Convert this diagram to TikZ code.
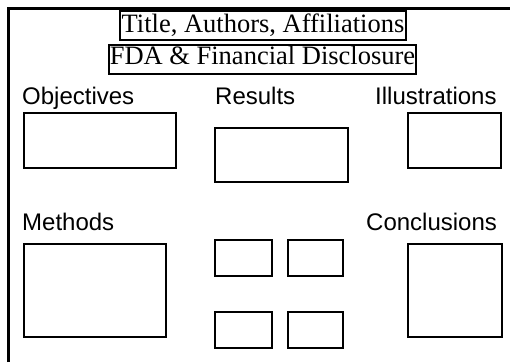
\documentclass[tikz,border=0pt]{standalone}
\usepackage{fontspec}
\setmainfont{Liberation Serif}
\setsansfont{Liberation Sans}

\tikzset{
    feld/.style = {draw, line width = 2pt, inner sep = 0pt},
    kopf/.style = {font = \sffamily\fontsize{24}{28}\selectfont, inner sep = 0pt, anchor = base west},
    titel/.style = {draw, line width = 2pt, inner sep = 0pt, anchor = base,
        font = \fontsize{26.5}{30}\selectfont}
}

\begin{document}
\begin{tikzpicture}[x = 1pt, y = -1pt]
        \useasboundingbox (0, 0) rectangle (510, 362);

        % Rahmen
        \draw [line width = 3pt] (8, 362) -- (8, 8) -- (510, 8);

        % oben
        \node [titel, text height = 21pt, text depth = 8pt, minimum width = 286pt]
            (title) at (263, 32) {Title, Authors, Affiliations};
        \node [titel, text height = 19pt, text depth = 10pt, minimum width = 307pt]
            (disclosure) at (262.5, 64) {FDA \& Financial Disclosure};

        % Mitte
        \node [kopf] (objectives) at (22, 104) {Objectives};
        \node [kopf] (results) at (215, 104) {Results};
        \node [kopf] (illustrations) at (375, 104) {Illustrations};
        \node [feld, minimum width = 152pt, minimum height = 55pt] (objbox) at (100, 140.5) {};
        \node [feld, minimum width = 133pt, minimum height = 54pt] (resbox) at (281.5, 155) {};
        \node [feld, minimum width = 93pt, minimum height = 55pt] (illbox) at (454.5, 140.5) {};

        % unten
        \node [kopf] (methods) at (22, 230) {Methods};
        \node [kopf] (conclusions) at (366, 230) {Conclusions};
        \node [feld, minimum width = 142pt, minimum height = 93pt] (methbox) at (95, 290.5) {};
        \node [feld, minimum width = 94pt, minimum height = 93pt] (concbox) at (455, 290.5) {};
        \node [feld, minimum width = 57pt, minimum height = 36pt] (resa) at (243.5, 258) {};
        \node [feld, minimum width = 55pt, minimum height = 36pt] (resb) at (315.5, 258) {};
        \node [feld, minimum width = 57pt, minimum height = 36pt] (resc) at (243.5, 330) {};
        \node [feld, minimum width = 55pt, minimum height = 36pt] (resd) at (315.5, 330) {};
    \end{tikzpicture}
\end{document}
